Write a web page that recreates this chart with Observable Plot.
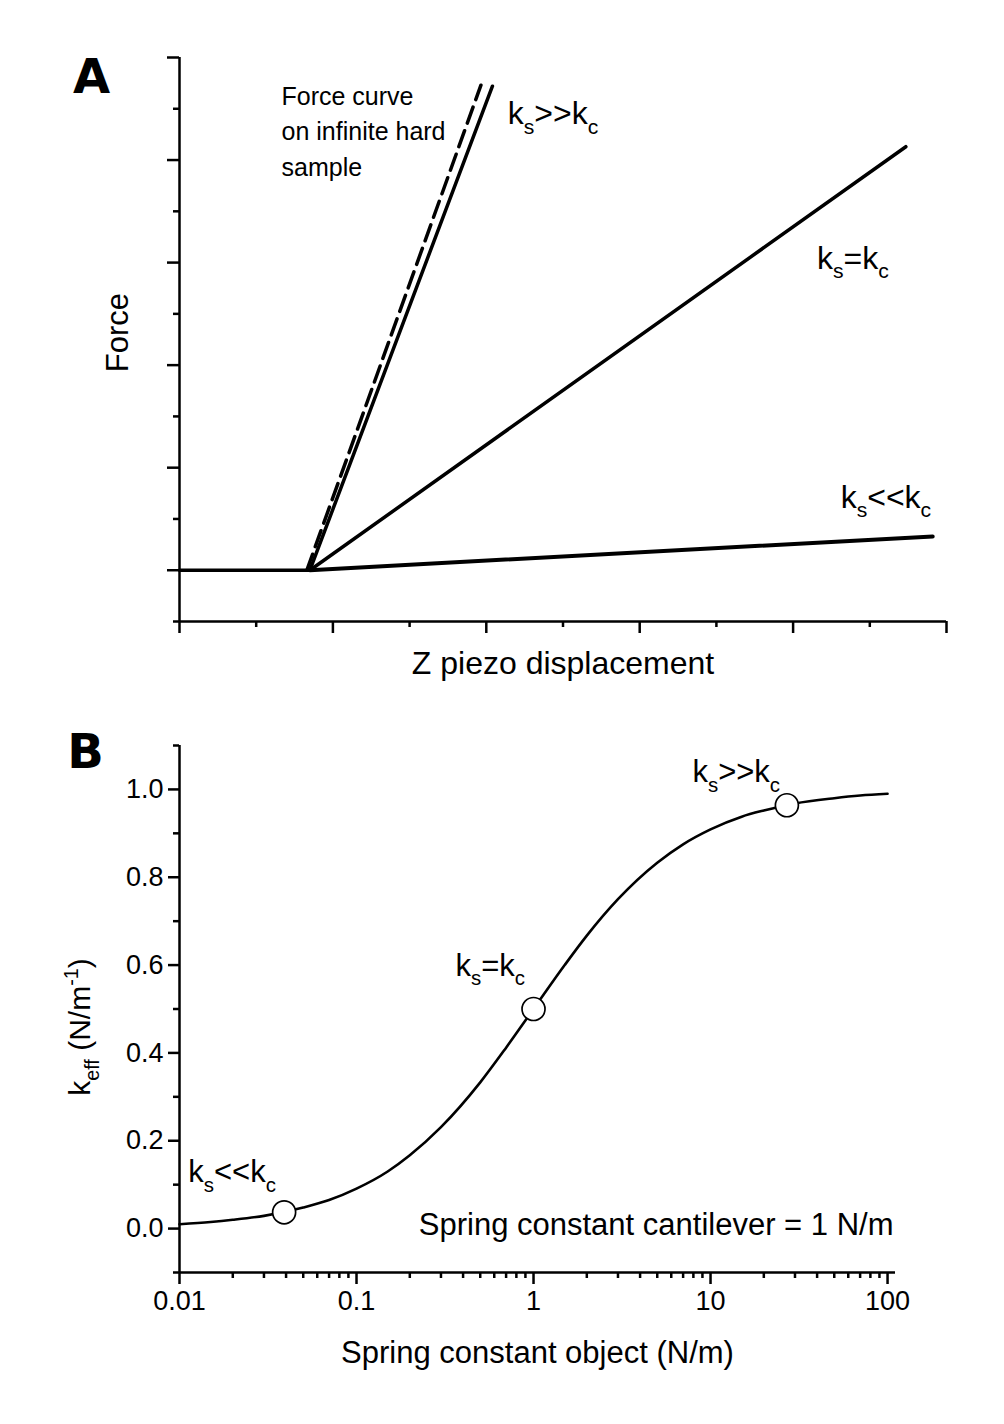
<!DOCTYPE html>
<html><head><meta charset="utf-8">
<script src="https://cdn.jsdelivr.net/npm/d3@7"></script>
<script src="https://cdn.jsdelivr.net/npm/@observablehq/plot@0.6"></script>
<style>
html,body{margin:0;padding:0;background:#fff;}
#chart{width:1004px;}
#chart svg{display:block;}
</style></head><body><div id="chart"></div>
<script>
// ---------- Panel A data (arbitrary units) ----------
const flatX = [0, 1.7];          const flatY = [0, 0];
const hardX = [1.66, 3.93];      const hardY = [0, 4.73];   // infinite hard sample (dashed)
const stiffX = [1.7, 4.08];      const stiffY = [0, 4.72];  // ks >> kc
const equalX = [1.7, 9.47];      const equalY = [0, 4.13];  // ks = kc
const softX = [1.7, 9.82];       const softY = [0, 0.33];   // ks << kc
const aXMajor = [0, 2, 4, 6, 8, 10];
const aXMinor = [1, 3, 5, 7, 9];
const aYMajor = [0, 1, 2, 3, 4, 5];
const aYMinor = [-0.5, 0.5, 1.5, 2.5, 3.5, 4.5];
const aLabelText = ["Force curve", "on infinite hard", "sample", "k_{s}>>k_{c}", "k_{s}=k_{c}", "k_{s}<<k_{c}"];
const aLabelX = [1.33, 1.33, 1.33, 4.28, 8.31, 8.62];
const aLabelY = [4.61, 4.27, 3.92, 4.45, 3.04, 0.71];

// ---------- Panel B data ----------
const ksValues   = [0.01, 0.015, 0.02, 0.03, 0.05, 0.07, 0.1, 0.15, 0.2, 0.3, 0.5, 0.7, 1, 1.5, 2, 3, 5, 7, 10, 15, 20, 30, 50, 70, 100];
const keffValues = [0.010, 0.015, 0.020, 0.029, 0.048, 0.065, 0.091, 0.130, 0.167, 0.231, 0.333, 0.412, 0.500, 0.600, 0.667, 0.750, 0.833, 0.875, 0.909, 0.938, 0.952, 0.968, 0.980, 0.986, 0.990];
const markerKs   = [0.039, 1, 27];
const markerKeff = [0.037, 0.5, 0.964];
const bXMajor  = [0.01, 0.1, 1, 10, 100];
const bXLabels = ["0.01", "0.1", "1", "10", "100"];
const bXMinor  = [0.02,0.03,0.04,0.05,0.06,0.07,0.08,0.09, 0.2,0.3,0.4,0.5,0.6,0.7,0.8,0.9, 2,3,4,5,6,7,8,9, 20,30,40,50,60,70,80,90];
const bYMajor  = [0, 0.2, 0.4, 0.6, 0.8, 1.0];
const bYLabels = ["0.0", "0.2", "0.4", "0.6", "0.8", "1.0"];
const bYMinor  = [-0.1, 0.1, 0.3, 0.5, 0.7, 0.9, 1.1];
const bLabelText = ["k_{s}>>k_{c}", "k_{s}=k_{c}", "k_{s}<<k_{c}"];
const bLabelX = [7.9, 0.362, 0.0112];
const bLabelY = [1.039, 0.598, 0.128];

const FONT = "'Liberation Sans', Arial, Helvetica, sans-serif";
const BOLD = "'DejaVu Sans', sans-serif";
const pts = (xs, ys) => xs.map((x, i) => ({x, y: ys[i]}));
const lookup = (ticks, labels) => d => {
  const i = ticks.findIndex(t => Math.abs(t - d) < 1e-9 * Math.max(1, Math.abs(t)));
  return i < 0 ? "" : labels[i];
};

// ---------- Panel A ----------
const aLabels = aLabelText.map((t, i) => ({t, x: aLabelX[i], y: aLabelY[i], big: t.startsWith("k")}));
const plotA = Plot.plot({
  width: 1004, height: 700,
  marginLeft: 179, marginRight: 58, marginTop: 57, marginBottom: 79,
  x: {domain: [0, 10]}, y: {domain: [-0.5, 5]},
  style: {fontFamily: FONT, background: "white", color: "black", fontSize: "25px"},
  marks: [
    Plot.axisX({ticks: aXMajor, tickSize: 12, tickFormat: () => "", strokeWidth: 2.5, label: null}),
    Plot.axisX({ticks: aXMinor, tickSize: 6, tickFormat: () => "", strokeWidth: 2.5, label: null}),
    Plot.axisY({ticks: aYMajor, tickSize: 12, tickFormat: () => "", strokeWidth: 2.5, label: null}),
    Plot.axisY({ticks: aYMinor, tickSize: 6, tickFormat: () => "", strokeWidth: 2.5, label: null}),
    Plot.ruleX([0], {y1: -0.5, y2: 5, strokeWidth: 2.5}),
    Plot.ruleY([-0.5], {x1: 0, x2: 10, strokeWidth: 2.5}),
    Plot.line(pts(flatX, flatY), {x: "x", y: "y", strokeWidth: 3.5}),
    Plot.line(pts(hardX, hardY), {x: "x", y: "y", strokeWidth: 3.5, strokeDasharray: "17,8"}),
    Plot.line(pts(stiffX, stiffY), {x: "x", y: "y", strokeWidth: 3.5}),
    Plot.line(pts(equalX, equalY), {x: "x", y: "y", strokeWidth: 3.5}),
    Plot.line(pts(softX, softY), {x: "x", y: "y", strokeWidth: 4}),
    Plot.text(aLabels.filter(d => !d.big), {x: "x", y: "y", text: "t", textAnchor: "start", fontSize: 25, fontFamily: FONT}),
    Plot.text(aLabels.filter(d => d.big), {x: "x", y: "y", text: "t", textAnchor: "start", fontSize: 32, fontFamily: FONT}),
    Plot.text(["Z piezo displacement"], {frameAnchor: "bottom", textAnchor: "middle", lineAnchor: "middle", dy: 42, fontSize: 32, fontFamily: FONT}),
    Plot.text(["Force"], {frameAnchor: "left", textAnchor: "middle", lineAnchor: "middle", dx: -61, dy: -7, rotate: -90, fontSize: 31, fontFamily: FONT}),
    Plot.text(["A"], {frameAnchor: "top-left", textAnchor: "middle", lineAnchor: "middle", dx: -88, dy: 20, fontSize: 48, fontWeight: "bold", fontFamily: BOLD})
  ]
});

// ---------- Panel B ----------
const bLabels = bLabelText.map((t, i) => ({t, x: bLabelX[i], y: bLabelY[i]}));
const plotB = Plot.plot({
  width: 1004, height: 724,
  marginLeft: 179, marginRight: 109, marginTop: 45, marginBottom: 152,
  x: {type: "log", domain: [0.01, 110.9]}, y: {domain: [-0.1, 1.1]},
  style: {fontFamily: FONT, background: "white", color: "black", fontSize: "27px"},
  marks: [
    Plot.axisX({ticks: bXMajor, tickSize: 12, tickPadding: 6, tickFormat: lookup(bXMajor, bXLabels), strokeWidth: 2.5, fontSize: 27, label: null}),
    Plot.axisX({ticks: bXMinor, tickSize: 6, tickFormat: () => "", strokeWidth: 2.5, label: null}),
    Plot.axisY({ticks: bYMajor, tickSize: 11, tickPadding: 5, tickFormat: lookup(bYMajor, bYLabels), strokeWidth: 2.5, fontSize: 27, label: null}),
    Plot.axisY({ticks: bYMinor, tickSize: 6, tickFormat: () => "", strokeWidth: 2.5, label: null}),
    Plot.ruleX([0.01], {y1: -0.1, y2: 1.1, strokeWidth: 2.5}),
    Plot.ruleY([-0.1], {x1: 0.01, x2: 110.9, strokeWidth: 2.5}),
    Plot.line(pts(ksValues, keffValues), {x: "x", y: "y", curve: "monotone-x", strokeWidth: 2.6}),
    Plot.dot(pts(markerKs, markerKeff), {x: "x", y: "y", r: 11.5, fill: "white", stroke: "black", strokeWidth: 1.7}),
    Plot.text(bLabels, {x: "x", y: "y", text: "t", textAnchor: "start", fontSize: 31, fontFamily: FONT}),
    Plot.text(["Spring constant cantilever = 1 N/m"], {x: [108], y: [0.007], textAnchor: "end", fontSize: 31, fontFamily: FONT}),
    Plot.text(["Spring constant object (N/m)"], {frameAnchor: "bottom", textAnchor: "middle", lineAnchor: "middle", dy: 81, fontSize: 31, fontFamily: FONT}),
    Plot.text(["k_{eff} (N/m^{-1})"], {frameAnchor: "left", textAnchor: "middle", lineAnchor: "middle", dx: -99, dy: 18, rotate: -90, fontSize: 30, fontFamily: FONT}),
    Plot.text(["B"], {frameAnchor: "top-left", textAnchor: "middle", lineAnchor: "middle", dx: -94, dy: 7, fontSize: 48, fontWeight: "bold", fontFamily: BOLD})
  ]
});

const host = document.getElementById("chart");
host.appendChild(plotA);
host.appendChild(plotB);

// render sub/superscripts written as _{..} and ^{..}
function richify(svg) {
  const NS = "http://www.w3.org/2000/svg";
  svg.querySelectorAll("text").forEach(t => {
    const s = t.textContent;
    if (!/[_^]\{/.test(s)) return;
    const fs = parseFloat(getComputedStyle(t).fontSize);
    while (t.firstChild) t.removeChild(t.firstChild);
    const re = /([_^])\{([^}]*)\}|([^_^]+)/g;
    let m, shift = 0;
    while ((m = re.exec(s))) {
      const ts = document.createElementNS(NS, "tspan");
      if (m[1]) {
        const target = m[1] === "_" ? fs * 0.3 : -fs * 0.4;
        ts.setAttribute("dy", target - shift);
        shift = target;
        ts.setAttribute("font-size", fs * 0.66);
        ts.textContent = m[2];
      } else {
        ts.setAttribute("dy", -shift);
        shift = 0;
        ts.setAttribute("font-size", fs);
        ts.textContent = m[3];
      }
      t.appendChild(ts);
    }
  });
}
richify(plotA);
richify(plotB);
</script></body></html>
